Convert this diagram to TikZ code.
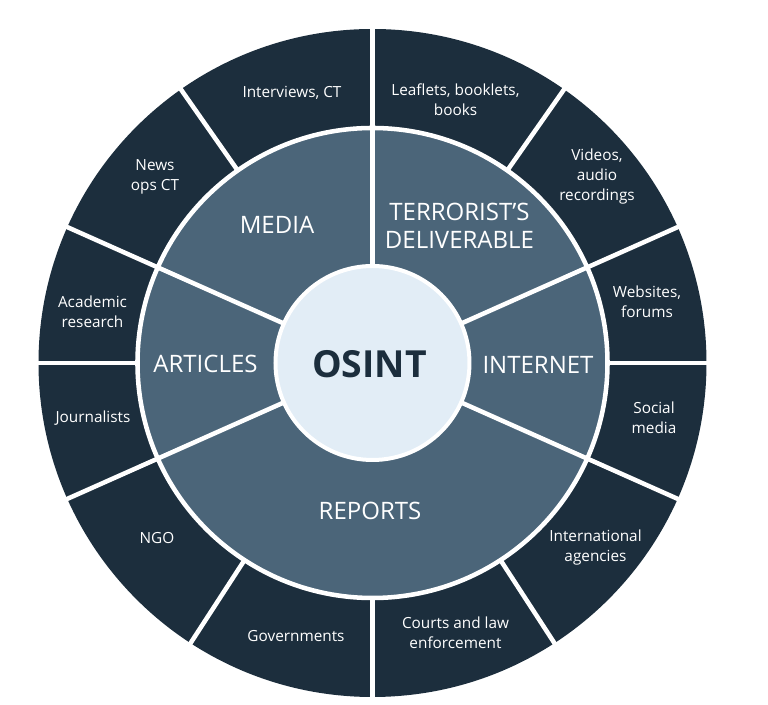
\documentclass[tikz,border=0pt]{standalone}
\usepackage{fontspec}
\setmainfont{Open Sans}
\definecolor{ringdark}{HTML}{1C2E3D}
\definecolor{ringmid}{HTML}{4B6579}
\definecolor{corelight}{HTML}{E2EDF6}

\begin{document}
\begin{tikzpicture}[x=0.75pt,y=0.75pt,
    source/.style={text=white,font=\fontsize{11.5}{15}\selectfont,align=center},
    group/.style={text=white,font=\fontsize{18}{21}\selectfont,align=center},
    sep/.style={white,line width=3.4pt}]
  \useasboundingbox (-372.5,-342) rectangle (395.5,363);
  \pgfmathsetmacro\rout{334}
  \pgfmathsetmacro\rmid{235}
  \pgfmathsetmacro\rin{97}
  \pgfmathsetmacro\rcut{340}
  % rings
  \fill[ringdark] (0,0) circle (\rout);
  \fill[ringmid] (0,0) circle (\rmid);
  \draw[sep] (0,0) circle (\rmid);
  % separators through both rings
  \draw[sep] (90:\rin) -- (90:\rcut);
  \draw[sep] (24:\rin) -- (24:\rcut);
  \draw[sep] (156:\rin) -- (156:\rcut);
  \draw[sep] (204:\rin) -- (204:\rcut);
  \draw[sep] (336:\rin) -- (336:\rcut);
  % separators of the outer ring only
  \draw[sep] (0:\rmid) -- (0:\rcut);
  \draw[sep] (55:\rmid) -- (55:\rcut);
  \draw[sep] (125:\rmid) -- (125:\rcut);
  \draw[sep] (180:\rmid) -- (180:\rcut);
  \draw[sep] (237:\rmid) -- (237:\rcut);
  \draw[sep] (270:\rmid) -- (270:\rcut);
  \draw[sep] (303:\rmid) -- (303:\rcut);
  % core
  \fill[corelight] (0,0) circle (\rin);
  \draw[white,line width=3pt] (0,0) circle (\rin);
  \node[text=ringdark,font=\fontsize{28}{32}\selectfont\bfseries] (osint) at (-3,-1) {OSINT};
  % middle ring
  \node[group] (media) at (-95.5,138) {MEDIA};
  \node[group] (terrorist) at (87,137.5) {TERRORIST’S\\DELIVERABLE};
  \node[group] (articles) at (-167,-1) {ARTICLES};
  \node[group] (internet) at (165.5,-2) {INTERNET};
  \node[group] (reports) at (-2.5,-148) {REPORTS};
  % outer ring
  \node[source] (interviews) at (-80.5,270) {Interviews, CT};
  \node[source] (news) at (-217.5,186) {News\\ops CT};
  \node[source] (academic) at (-280,51) {Academic\\research};
  \node[source] (journalists) at (-279.5,-55) {Journalists};
  \node[source] (ngo) at (-215.5,-175) {NGO};
  \node[source] (governments) at (-76.5,-273) {Governments};
  \node[source] (courts) at (83,-270) {Courts and law\\enforcement};
  \node[source] (agencies) at (223,-185) {International\\agencies};
  \node[source] (social) at (281.5,-55) {Social\\media};
  \node[source] (websites) at (274.5,61) {Websites,\\forums};
  \node[source] (videos) at (224.5,186) {Videos,\\audio\\recordings};
  \node[source] (leaflets) at (83,263) {Leaflets, booklets,\\books};
\end{tikzpicture}
\end{document}
